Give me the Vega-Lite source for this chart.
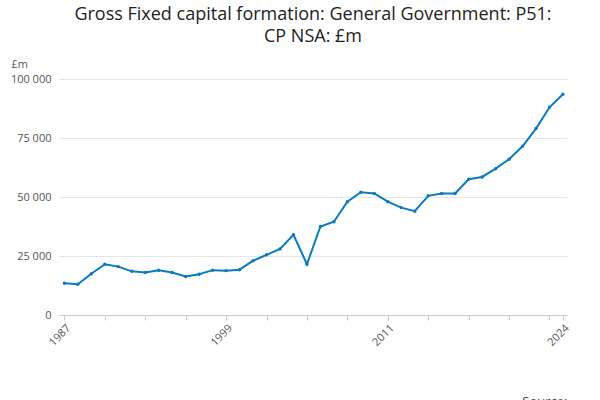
{
"$schema":"https://vega.github.io/schema/vega-lite/v6.json",
"width":508,"height":236,
"padding":{"left":10,"right":15,"top":6,"bottom":2},
"config":{"font":"Open Sans","view":{"stroke":null}},
"title":{"text":["Gross Fixed capital formation: General Government: P51:","CP NSA: £m"],"fontSize":18,"fontWeight":"normal","color":"#222","offset":12,"lineHeight":22},
"data":{"values":[
{"year":1987,"v":13500},{"year":1988,"v":13000},{"year":1989,"v":17500},{"year":1990,"v":21500},{"year":1991,"v":20500},{"year":1992,"v":18500},{"year":1993,"v":18000},{"year":1994,"v":19000},{"year":1995,"v":18000},{"year":1996,"v":16300},{"year":1997,"v":17300},{"year":1998,"v":19000},{"year":1999,"v":18800},{"year":2000,"v":19200},{"year":2001,"v":23000},{"year":2002,"v":25500},{"year":2003,"v":28000},{"year":2004,"v":34000},{"year":2005,"v":21500},{"year":2006,"v":37500},{"year":2007,"v":39500},{"year":2008,"v":48000},{"year":2009,"v":52000},{"year":2010,"v":51500},{"year":2011,"v":48000},{"year":2012,"v":45500},{"year":2013,"v":44000},{"year":2014,"v":50500},{"year":2015,"v":51500},{"year":2016,"v":51500},{"year":2017,"v":57500},{"year":2018,"v":58500},{"year":2019,"v":62000},{"year":2020,"v":66000},{"year":2021,"v":71500},{"year":2022,"v":79000},{"year":2023,"v":88000},{"year":2024,"v":93500}
]},
"mark":{"type":"line","point":{"size":12,"filled":true},"strokeWidth":2},
"encoding":{
"x":{"field":"year","type":"quantitative","scale":{"domain":[1986.6,2024.3],"nice":false,"zero":false},
"axis":{"values":[1987,1990,1993,1996,1999,2002,2005,2008,2011,2014,2017,2020,2023,2024],"labelExpr":"indexof([1987,1999,2011,2024],datum.value)>=0?toString(datum.value):''","labelOverlap":false,"labelAngle":-45,"labelAlign":"right","grid":false,"labelColor":"#555","labelFontSize":11,"tickColor":"#ccc","domainColor":"#ccc","title":"Source:","titleAnchor":"end","titleFontWeight":"normal","titleFontSize":13,"titleColor":"#444","titleY":80,"labelFlush":false}},
"y":{"field":"v","type":"quantitative","scale":{"domain":[0,100000]},
"axis":{"values":[0,25000,50000,75000,100000],"labelExpr":"replace(format(datum.value,','),',',' ')","title":"£m","titleAngle":0,"titleAnchor":"end","titleAlign":"left","titleX":-48,"titleY":-10,"titleFontWeight":"normal","titleColor":"#555","titleFontSize":11,"labelColor":"#555","labelFontSize":11,"domain":false,"ticks":false,"gridColor":"#e6e6e6","labelPadding":8}},
"color":{"datum":"Gross Fixed capital formation: General Government: P51: CP NSA: £m","scale":{"range":["#0a7bbd"]},
"legend":{"orient":"bottom","title":null,"labelFontSize":13,"labelFontWeight":"bold","labelColor":"#333","labelLimit":600,"symbolType":"stroke","symbolStrokeWidth":2,"offset":22}}
}
}
